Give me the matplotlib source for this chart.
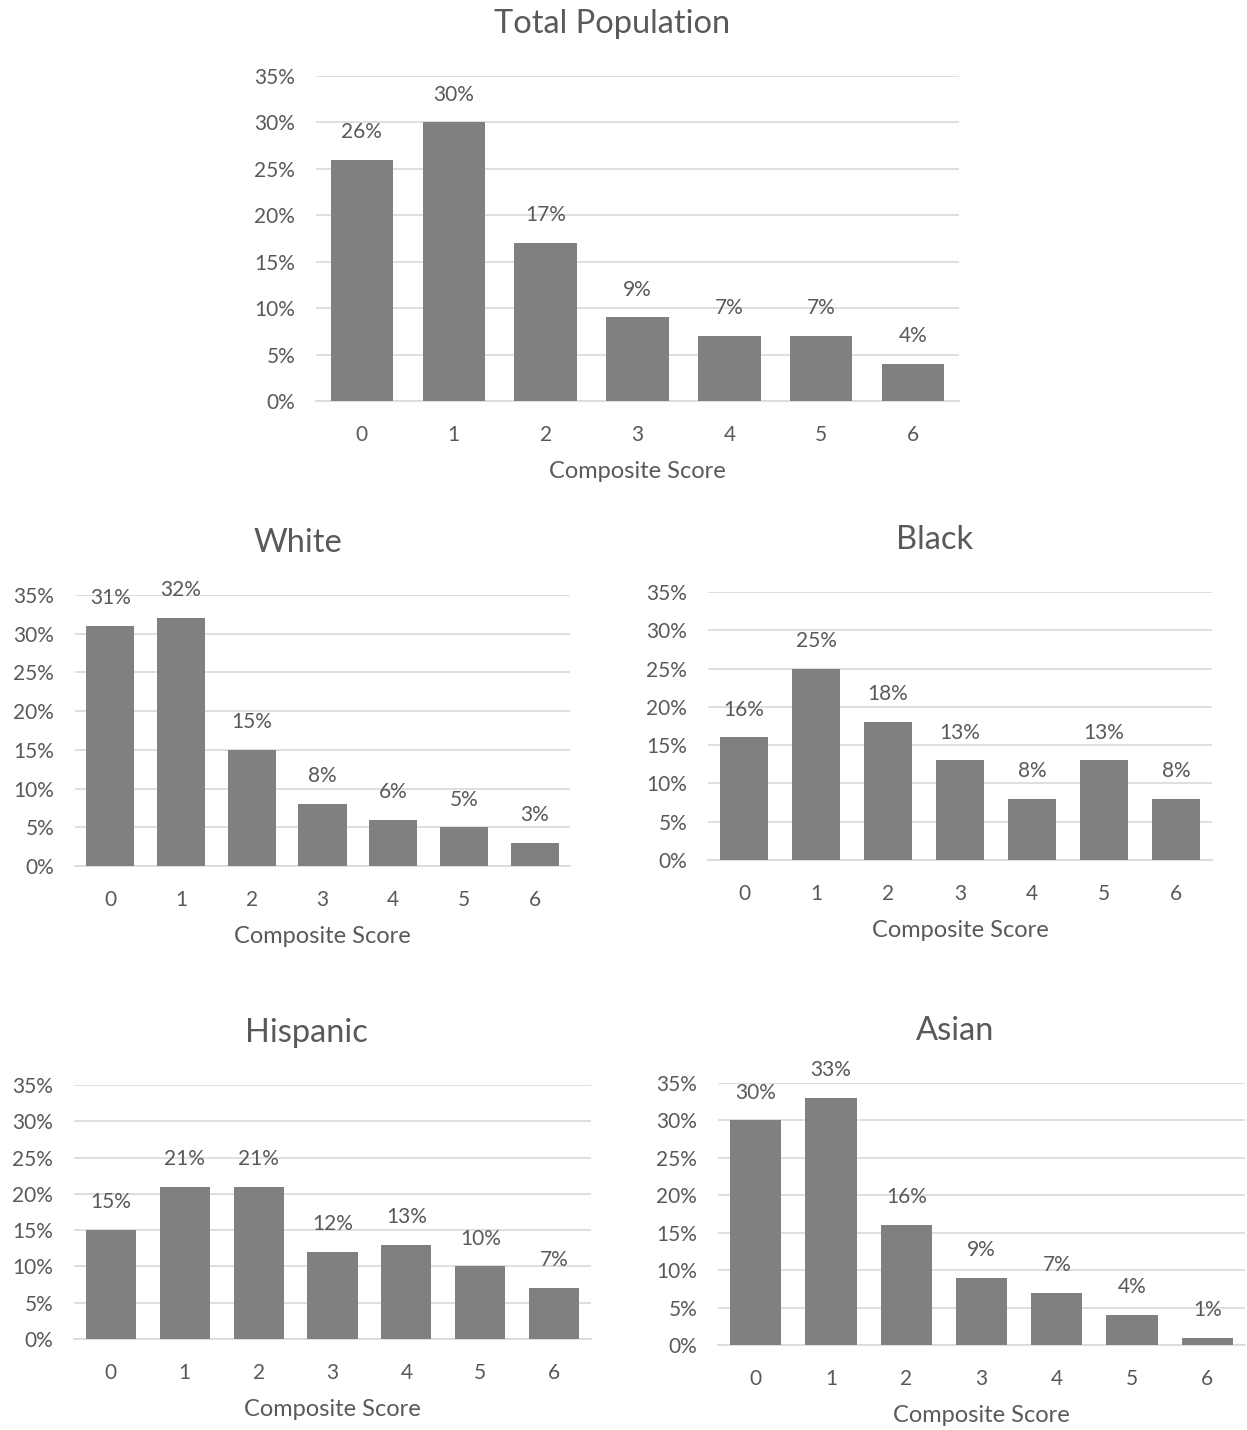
import matplotlib
matplotlib.use("Agg")
import matplotlib.pyplot as plt
from matplotlib.ticker import PercentFormatter

plt.rcParams["font.family"] = ["Lato", "DejaVu Sans"]

scores = [0, 1, 2, 3, 4, 5, 6]
total_pct = [26, 30, 17, 9, 7, 7, 4]
white_pct = [31, 32, 15, 8, 6, 5, 3]
black_pct = [16, 25, 18, 13, 8, 13, 8]
hispanic_pct = [15, 21, 21, 12, 13, 10, 7]
asian_pct = [30, 33, 16, 9, 7, 4, 1]
y_ticks = [0, 5, 10, 15, 20, 25, 30, 35]

W, H = 1247, 1430
TEXT = "#595959"
BAR = "#808080"
GRID = "#d9d9d9"


def px_axes(fig, left, right, bottom, top):
    # pixel box -> figure fraction
    return fig.add_axes([left / W, 1 - bottom / H, (right - left) / W, (bottom - top) / H])


def draw_panel(ax, title, values, title_x):
    ax.bar(scores, values, width=0.68, color=BAR, zorder=3)
    ax.set_xlim(-0.5, 6.5)
    ax.set_ylim(0, 35)
    ax.set_yticks(y_ticks)
    ax.yaxis.set_major_formatter(PercentFormatter(decimals=0))
    ax.set_xticks(scores)
    ax.grid(axis="y", color=GRID, linewidth=1.2, zorder=0)
    for s in ["top", "right", "left"]:
        ax.spines[s].set_visible(False)
    ax.spines["bottom"].set_color(GRID)
    ax.spines["bottom"].set_linewidth(1.2)
    ax.tick_params(axis="both", length=0, colors=TEXT, labelsize=15)
    ax.tick_params(axis="y", pad=15)
    ax.tick_params(axis="x", pad=17)
    ax.set_xlabel("Composite Score", color=TEXT, fontsize=17, labelpad=12)
    for x, v in zip(scores, values):
        ax.annotate(f"{v}%", (x, v), xytext=(0, 20), textcoords="offset points",
                    ha="center", va="center", color=TEXT, fontsize=15)
    ax.set_title(title, color=TEXT, fontsize=23.5, x=title_x, pad=31)


fig = plt.figure(figsize=(W / 100, H / 100), dpi=100)

ax = px_axes(fig, 316, 959, 401, 76)
draw_panel(ax, "Total Population", total_pct, 0.46)

ax = px_axes(fig, 75, 570, 866, 595)
draw_panel(ax, "White", white_pct, 0.45)

ax = px_axes(fig, 708, 1212, 860, 592)
draw_panel(ax, "Black", black_pct, 0.45)

ax = px_axes(fig, 74, 591, 1339, 1085)
draw_panel(ax, "Hispanic", hispanic_pct, 0.45)

ax = px_axes(fig, 718, 1245, 1345, 1083)
draw_panel(ax, "Asian", asian_pct, 0.45)

fig.savefig("out.png", dpi=100)
